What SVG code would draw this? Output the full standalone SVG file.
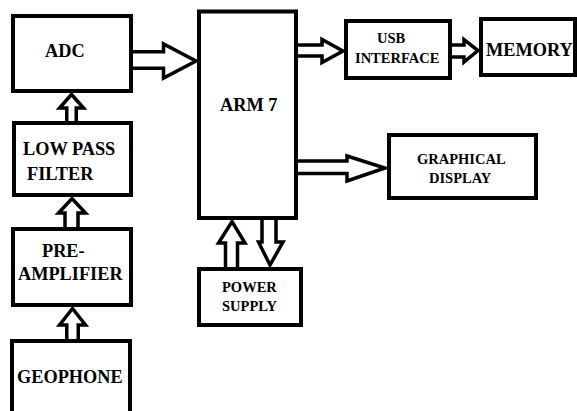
<svg xmlns="http://www.w3.org/2000/svg" width="577" height="411" viewBox="0 0 577 411">
<style>
.box{fill:#fff;stroke:#000;stroke-width:4}
.arr{fill:#fff;stroke:#000;stroke-width:3.5;stroke-linejoin:miter;stroke-miterlimit:10}
.t{font-family:"Liberation Serif","Times New Roman",serif;font-weight:bold;fill:#000}
.l{font-size:18.3px}
.s{font-size:14.5px}
</style>
<rect width="577" height="411" fill="#fff"/>
<g id="connectors">
<polygon class="arr" points="131,51.75 163.5,51.75 163.5,44 196,61 163.5,78 163.5,68.25 131,68.25"/>
<polygon class="arr" points="66.75,123 66.75,108 59.5,108 71.5,94.5 83.5,108 76.25,108 76.25,123"/>
<polygon class="arr" points="65,229 65,213 58.5,213 72,198.5 85.5,213 78,213 78,229"/>
<polygon class="arr" points="66.75,341 66.75,325 59.5,325 72.5,308.5 85.5,325 78.25,325 78.25,341"/>
<polygon class="arr" points="296,45 322,45 322,39.5 343,51 322,62.5 322,56 296,56"/>
<polygon class="arr" points="449,45 464,45 464,39.5 478,50.5 464,62 464,57 449,57"/>
<polygon class="arr" points="296,161 347,161 347,156 385,168 347,181 347,173.5 296,173.5"/>
<polygon class="arr" points="225.5,269 225.5,243 218.5,243 232,221.5 245,243 237.5,243 237.5,269"/>
<polygon class="arr" points="262,218 262,242 258.5,242 270,265 283,242 276,242 276,218"/>
</g>
<g id="adc"><rect class="box" x="13" y="16" width="118" height="75"/><text class="t l" x="45" y="57">ADC</text></g>
<g id="lpf"><rect class="box" x="14" y="123" width="117" height="72"/><text class="t l" x="23" y="155">LOW PASS</text><text class="t l" x="27" y="180">FILTER</text></g>
<g id="preamp"><rect class="box" x="13" y="229" width="118" height="76"/><text class="t l" x="42" y="257">PRE-</text><text class="t l" x="18" y="280">AMPLIFIER</text></g>
<g id="geophone"><rect class="box" x="12" y="341" width="118" height="80"/><text class="t l" x="17" y="383">GEOPHONE</text></g>
<g id="arm"><rect class="box" x="199" y="11.5" width="97" height="206.5"/><text class="t l" x="220" y="111">ARM 7</text></g>
<g id="usb"><rect class="box" x="346" y="21" width="104" height="57"/><text class="t s" x="377" y="43">USB</text><text class="t s" x="355" y="63">INTERFACE</text></g>
<g id="memory"><rect class="box" x="481" y="19" width="94" height="56"/><text class="t l" x="486" y="56">MEMORY</text></g>
<g id="display"><rect class="box" x="389" y="135" width="147" height="63"/><text class="t s" x="417" y="164">GRAPHICAL</text><text class="t s" x="429" y="183">DISPLAY</text></g>
<g id="power"><rect class="box" x="199" y="269" width="102" height="56"/><text class="t s" x="222" y="292">POWER</text><text class="t s" x="222" y="311">SUPPLY</text></g>
</svg>
